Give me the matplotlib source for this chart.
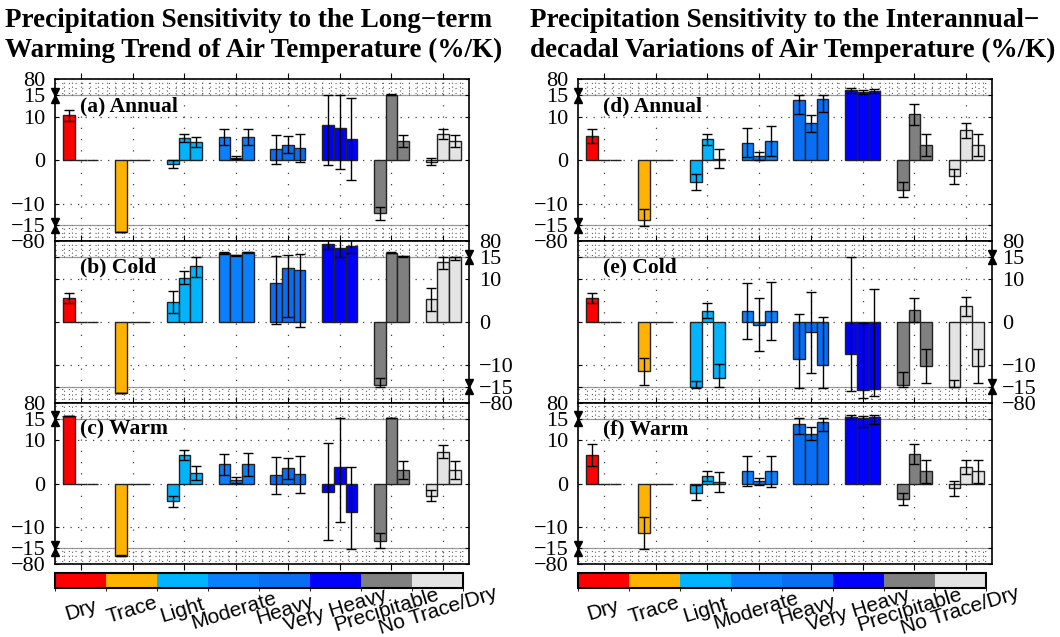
import numpy as np
import matplotlib
matplotlib.use('Agg')
import matplotlib.pyplot as plt
from matplotlib.colors import ListedColormap, BoundaryNorm
from matplotlib.cm import ScalarMappable

categories = ['Dry', 'Trace', 'Light', 'Moderate', 'Heavy', 'Very Heavy',
              'Precipitable', 'No Trace/Dry']
colors = ['#FF0000', '#FFB300', '#00B4FF', '#0A80FF', '#0A6EF5', '#0000FF',
          '#808080', '#E4E4E4']

ytick_vals = [80, 15, 10, 0, -10, -15, -80]
ytick_labels = ['80', '15', '10', '0', '\u221210', '\u221215', '\u221280']

# (a) long-term trend, annual
vals_a = [[10.4, 0, 0], [-42, 0, 0], [-0.9, 5.2, 4.2], [5.4, 0.6, 5.4],
          [2.5, 3.6, 2.8], [8.1, 7.4, 4.9], [-12.2, 18, 4.5], [-0.3, 6.1, 4.5]]
err_a = [[1.3, 0, 0], [0.8, 0, 0], [0.9, 0.9, 1.2], [1.8, 0.35, 1.8],
         [3.3, 2.0, 3.3], [9.3, 9.5, 9.5], [1.5, 1.0, 1.35], [0.8, 1.15, 1.35]]
# (b) long-term trend, cold
vals_b = [[5.5, 0, 0], [-40.7, 0, 0], [4.6, 10.2, 12.8], [31, 22, 34],
          [9.0, 12.5, 12.1], [68, 51.5, 59.7], [-14.5, 32.6, 17], [5.2, 13.8, 14.9]]
err_b = [[1.1, 0, 0], [1.0, 0, 0], [2.65, 1.5, 2.5], [3, 3, 3],
         [9.4, 11.3, 13.2], [20, 36, 27], [1.5, 2, 1.5], [2.6, 1.5, 0.7]]
# (c) long-term trend, warm
vals_c = [[25.8, 0, 0], [-44.8, 0, 0], [-4.15, 6.6, 2.5], [4.4, 0.8, 4.4],
          [1.9, 3.5, 2.15], [-1.85, 3.7, -6.5], [-13.2, 17.7, 3.15], [-2.85, 7.3, 3.15]]
err_c = [[1, 0, 0], [2, 0, 0], [1.3, 1.2, 1.6], [2.5, 0.65, 2.6],
         [4.3, 2.5, 4.3], [11.3, 12.5, 10.4], [1.8, 1.0, 2.0], [1.3, 1.5, 2.0]]
# (d) interannual-decadal, annual
vals_d = [[5.7, 0, 0], [-13.85, 0, 0], [-4.9, 4.85, 0.4], [4.0, 1.0, 4.4],
          [14.0, 8.5, 14.1], [35, 28.5, 32.6], [-6.8, 10.6, 3.5], [-3.7, 6.9, 3.5]]
err_d = [[1.6, 0, 0], [2.5, 0, 0], [1.85, 1.3, 2.1], [3.35, 0.95, 3.5],
         [3.2, 1.85, 3.0], [9, 8, 8], [1.7, 2.5, 2.5], [1.8, 1.7, 2.5]]
# (e) interannual-decadal, cold
vals_e = [[5.5, 0, 0], [-11.4, 0, 0], [-16, 2.6, -12.9], [2.5, -0.6, 2.5],
          [-8.5, -2.4, -10.0], [-7.5, -29.9, -21.8], [-14.5, 2.7, -10.2], [-15.5, 3.6, -10.2]]
err_e = [[1.1, 0, 0], [3.1, 0, 0], [2.4, 1.8, 3.1], [6.5, 6.2, 6.7],
         [10.4, 9.4, 11.1], [22.6, 29.6, 29.4], [2.9, 2.8, 4.0], [2.0, 2.2, 4.0]]
# (f) interannual-decadal, warm
vals_f = [[6.6, 0, 0], [-11.5, 0, 0], [-2.1, 1.8, 0.25], [2.9, 0.55, 2.8],
          [13.7, 11.5, 14.1], [23, 19, 21.8], [-3.6, 6.9, 2.8], [-1.15, 3.85, 2.8]]
err_f = [[2.6, 0, 0], [3.8, 0, 0], [1.8, 1.2, 2.3], [3.5, 0.8, 3.5],
         [2.3, 1.5, 2.0], [8, 6, 8], [1.35, 2.3, 2.7], [1.8, 1.65, 2.7]]

# broken y axis: linear inside +-15, compressed outside
K = 0.0563


def fwd(v):
    v = np.asarray(v, dtype=float)
    a = np.abs(v)
    return np.where(a <= 15, v, np.sign(v) * (15 + (a - 15) * K))


def inv(u):
    u = np.asarray(u, dtype=float)
    a = np.abs(u)
    return np.where(a <= 15, u, np.sign(u) * (15 + (a - 15) / K))


serif = 'Liberation Serif'
plt.rcParams['font.family'] = serif

fig = plt.figure(figsize=(10.6, 6.37), dpi=100)

bottoms = [0.6215, 0.3678, 0.1141]
h = 0.2537
lefts = [0.0519, 0.5453]
w_ax = 0.3906

panels = [
    (vals_a, err_a, '(a) Annual', 0, 0, 'left'),
    (vals_b, err_b, '(b) Cold', 0, 1, 'right'),
    (vals_c, err_c, '(c) Warm', 0, 2, 'left'),
    (vals_d, err_d, '(d) Annual', 1, 0, 'left'),
    (vals_e, err_e, '(e) Cold', 1, 1, 'right'),
    (vals_f, err_f, '(f) Warm', 1, 2, 'left'),
]

bw = 0.226
dot = (0, (1, 5))

for vals, errs, label, col, row, side in panels:
    ax = fig.add_axes([lefts[col], bottoms[row], w_ax, h])
    ax.set_yscale('function', functions=(fwd, inv))
    ax.set_ylim(-80, 80)
    ax.set_xlim(-0.5, 7.5)

    vals = np.array(vals, dtype=float)
    errs = np.array(errs, dtype=float)
    x = np.arange(len(categories))
    for j in range(3):
        xs = x + (j - 1) * bw
        ax.bar(xs, vals[:, j], bw, color=colors, edgecolor='#222222',
               linewidth=1, zorder=3)
        m = errs[:, j] > 0
        ax.errorbar(xs[m], vals[m, j], yerr=errs[m, j], fmt='none',
                    ecolor='k', elinewidth=1, capsize=3.5, capthick=1, zorder=4)

    # grid
    for yv in [10, 0, -10]:
        ax.axhline(yv, color='0.25', lw=0.9, ls=dot, zorder=1)
    for yv in [25, 45, 65, -25, -45, -65]:
        ax.axhline(yv, color='0.35', lw=0.8, ls=dot, zorder=1)
    ax.axhline(15, color='0.6', lw=0.9, zorder=1)
    ax.axhline(-15, color='0.6', lw=0.9, zorder=1)
    for xv in x:
        ax.axvline(xv, color='0.25', lw=0.9, ls=(0, (1, 8)), zorder=1)
    xm = np.arange(-0.5 + 1 / 6, 7.5, 1 / 6)
    ax.vlines(xm, 15, 80, color='0.35', lw=0.8, ls=(0, (1, 2.5)), zorder=1)
    ax.vlines(xm, -80, -15, color='0.35', lw=0.8, ls=(0, (1, 2.5)), zorder=1)

    # ticks
    ax.set_yticks(ytick_vals)
    ax.set_yticklabels(ytick_labels)
    ax.set_yticks([], minor=True)
    ax.tick_params(axis='y', which='major', direction='in', length=3,
                   left=True, right=True, labelsize=16, pad=7,
                   labelleft=(side == 'left'), labelright=(side == 'right'))
    ax.set_xticks(x)
    ax.set_xticklabels([])
    ax.tick_params(axis='x', direction='out', length=4, top=True, bottom=True)
    for s in ax.spines.values():
        s.set_linewidth(1.2)

    # break markers on the labelled spine
    sx = 0 if side == 'left' else 1
    tr = ax.get_yaxis_transform()
    for yv, mk in [(29, 'v'), (14.2, '^'), (-14.2, 'v'), (-29, '^')]:
        ax.plot(sx, yv, marker=mk, ms=6, color='k', transform=tr,
                clip_on=False, zorder=6)

    ax.text(0.06, 0.835, label, transform=ax.transAxes, fontsize=15.5,
            fontweight='bold', va='center', ha='left', zorder=7)

fig.text(0.005, 1 - 27 / 637, 'Precipitation Sensitivity to the Long\u2212term',
         fontsize=19.5, fontweight='bold', va='baseline', ha='left')
fig.text(0.005, 1 - 57 / 637, 'Warming Trend of Air Temperature (%/K)',
         fontsize=19.5, fontweight='bold', va='baseline', ha='left')
fig.text(0.5, 1 - 27 / 637, 'Precipitation Sensitivity to the Interannual\u2212',
         fontsize=19.5, fontweight='bold', va='baseline', ha='left')
fig.text(0.5, 1 - 57 / 637, 'decadal Variations of Air Temperature (%/K)',
         fontsize=19.5, fontweight='bold', va='baseline', ha='left')

# colour bars with category names
cmap = ListedColormap(colors)
norm = BoundaryNorm(np.arange(len(categories) + 1), len(categories))
for cl in [0.0519, 0.5449]:
    cax = fig.add_axes([cl, 0.0769, 0.385, 0.0235])
    cb = fig.colorbar(ScalarMappable(norm=norm, cmap=cmap), cax=cax,
                      orientation='horizontal')
    cb.set_ticks([])
    cb.outline.set_linewidth(1.5)
    for i, name in enumerate(categories):
        cax.text((i + 0.5) / len(categories), -1.5, name, transform=cax.transAxes,
                 rotation=17, ha='center', va='center', fontsize=15,
                 family='Liberation Sans')

fig.savefig('out.png', dpi=100)
